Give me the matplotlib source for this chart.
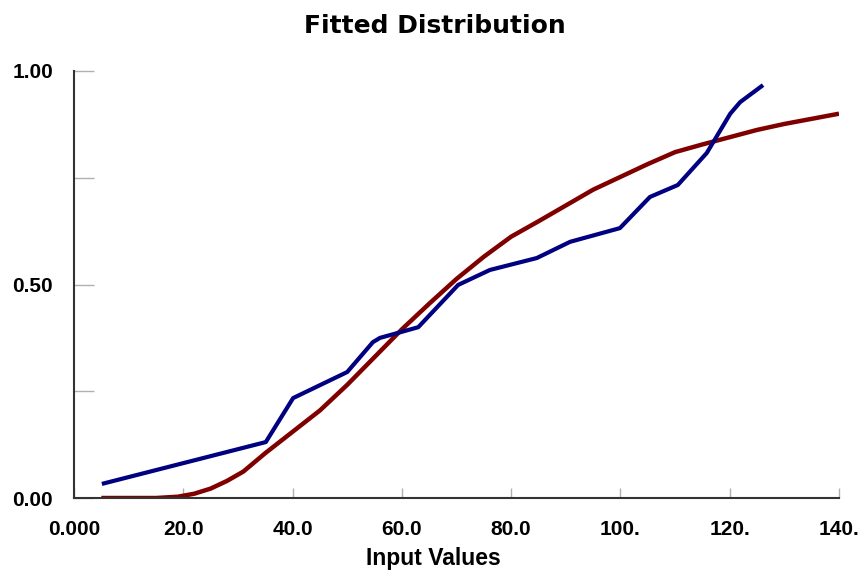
import numpy as np
import matplotlib.pyplot as plt

# empirical CDF (blue)
emp_x = [5.1, 35.1, 40.1, 50.0, 54.7, 56.0, 59.1, 63.0, 70.3, 76.1, 84.7,
         90.8, 99.9, 105.4, 110.5, 115.8, 120.1, 121.9, 126.1]
emp_y = [0.033, 0.131, 0.234, 0.295, 0.365, 0.375, 0.386, 0.400, 0.499, 0.534, 0.562,
         0.600, 0.632, 0.705, 0.733, 0.808, 0.900, 0.927, 0.967]

# fitted CDF (red)
fit_x = [5, 15, 19, 22, 25, 28, 31, 35, 40, 45, 50, 55, 60, 65, 70, 75, 80, 85,
         90, 95, 100, 105, 110, 115, 120, 125, 130, 135, 140]
fit_y = [0.0, 0.0, 0.003, 0.01, 0.022, 0.04, 0.062, 0.105, 0.155, 0.205, 0.265, 0.33,
         0.395, 0.455, 0.513, 0.565, 0.612, 0.648, 0.685, 0.722, 0.752, 0.782,
         0.81, 0.828, 0.845, 0.862, 0.876, 0.888, 0.90]

xticks = [0, 20, 40, 60, 80, 100, 120, 140]
xticklabels = ["0.000", "20.0", "40.0", "60.0", "80.0", "100.", "120.", "140."]
yticks = [0, 0.25, 0.5, 0.75, 1.0]
yticklabels = ["0.00", "", "0.50", "", "1.00"]

fig = plt.figure(figsize=(8.61, 5.72), dpi=100)
ax = fig.add_axes([74/861, 74/572, 765/861, 427/572])

ax.plot(fit_x, fit_y, color="#800000", lw=3.2, solid_capstyle="butt")
ax.plot(emp_x, emp_y, color="#000080", lw=3, solid_capstyle="butt")

ax.set_xlim(0, 140)
ax.set_ylim(0, 1)

ax.spines["top"].set_visible(False)
ax.spines["right"].set_visible(False)
for s in ["left", "bottom"]:
    ax.spines[s].set_color("#333333")
    ax.spines[s].set_linewidth(1.5)

tick_font = dict(family="Liberation Sans", weight="bold", size=15)
ax.set_xticks(xticks)
ax.set_xticklabels(xticklabels, fontdict=tick_font)
ax.set_yticks(yticks)
ax.set_yticklabels(yticklabels, fontdict=tick_font)
ax.tick_params(axis="x", direction="in", length=7, width=1, color="#b0b0b0", pad=16)
ax.tick_params(axis="y", direction="in", length=14.5, width=1, color="#b0b0b0", pad=15)

fig.text(435/861, 1 - 26/572, "Fitted Distribution", ha="center", va="center",
         family="DejaVu Sans", weight="bold", fontsize=18)
fig.text(433/861, 1 - 558/572, "Input Values", ha="center", va="center",
         family="Liberation Sans", weight="bold", fontsize=16.5)

fig.savefig("out.png", dpi=100)
